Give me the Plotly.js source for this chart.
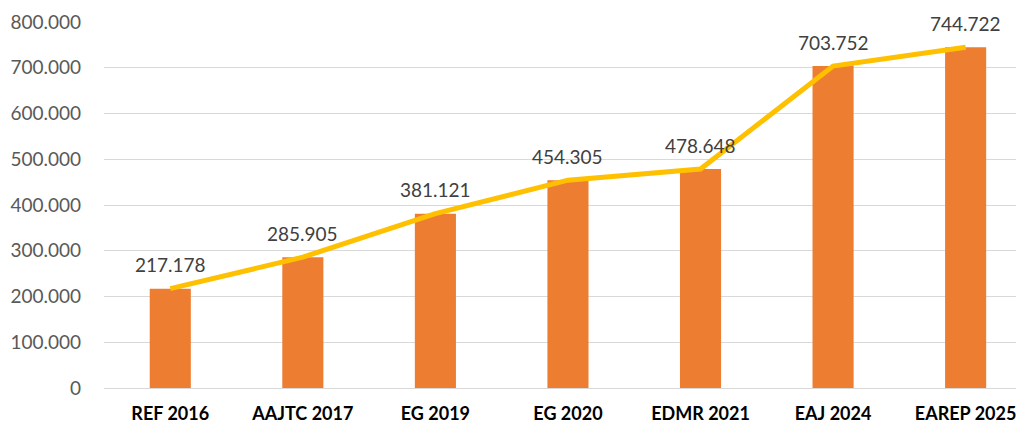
<!DOCTYPE html>
<html>
<head>
<meta charset="utf-8">
<script src="https://cdn.plot.ly/plotly-3.0.1.min.js"></script>
<style>
  html, body { margin: 0; padding: 0; background: #fff; }
  #chart { width: 1016px; height: 425px; }
</style>
</head>
<body>
<div id="chart"></div>
<script>
  const categories = ["REF 2016", "AAJTC 2017", "EG 2019", "EG 2020", "EDMR 2021", "EAJ 2024", "EAREP 2025"];
  const values = [217178, 285905, 381121, 454305, 478648, 703752, 744722];
  const yTicks = [0, 100000, 200000, 300000, 400000, 500000, 600000, 700000, 800000];

  // thousands with a dot, as in the source
  function fmt(v) {
    return String(v).replace(/\B(?=(\d{3})+(?!\d))/g, ".");
  }

  const barTrace = {
    type: "bar",
    x: categories,
    y: values,
    width: 0.31,
    marker: { color: "#ED7D31" },
    hoverinfo: "skip",
    showlegend: false
  };

  const lineTrace = {
    type: "scatter",
    mode: "lines",
    x: categories,
    y: values,
    line: { color: "#FFC000", width: 5 },
    cliponaxis: false,
    showlegend: false
  };

  const labels = categories.map((c, i) => ({
    x: c,
    y: values[i],
    text: fmt(values[i]),
    showarrow: false,
    yanchor: "middle",
    yshift: 24,
    font: { family: "Lato, sans-serif", size: 19, color: "#404040" }
  }));

  const layout = {
    width: 1016,
    height: 425,
    margin: { l: 104, r: 0, t: 22, b: 37 },
    paper_bgcolor: "#ffffff",
    plot_bgcolor: "#ffffff",
    separators: ",.",
    showlegend: false,
    annotations: labels,
    xaxis: {
      type: "category",
      range: [-0.5, 6.38],
      showgrid: false,
      zeroline: false,
      showline: false,
      ticks: "",
      ticklabelstandoff: 13,
      tickfont: { family: "Lato, sans-serif", size: 18, color: "#000000", weight: "bold" }
    },
    yaxis: {
      range: [0, 800000],
      tickmode: "array",
      tickvals: yTicks,
      tickformat: ",d",
      showgrid: true,
      gridcolor: "#d9d9d9",
      gridwidth: 1,
      zeroline: true,
      zerolinecolor: "#d9d9d9",
      zerolinewidth: 1,
      showline: false,
      ticks: "",
      ticklabelstandoff: 22,
      tickfont: { family: "Lato, sans-serif", size: 19, color: "#595959" }
    }
  };

  Plotly.newPlot("chart", [barTrace, lineTrace], layout, { displayModeBar: false, staticPlot: true });
</script>
</body>
</html>
